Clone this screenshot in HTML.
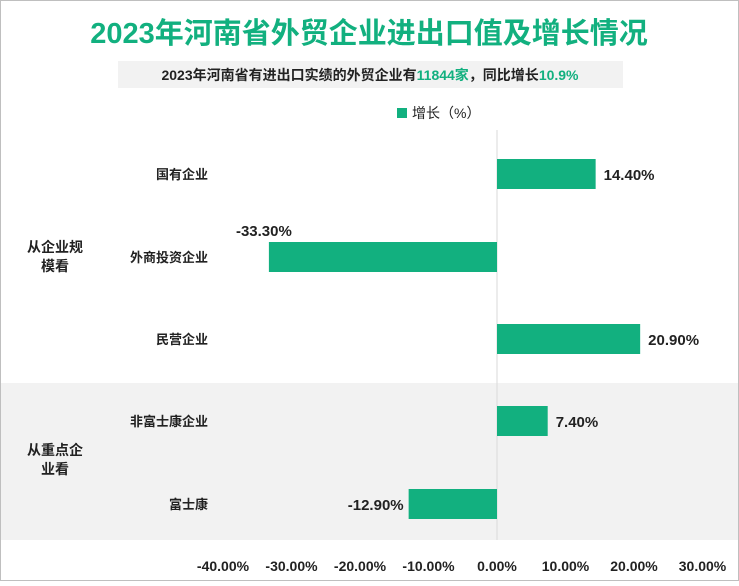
<!DOCTYPE html>
<html><head><meta charset="utf-8"><style>
body{margin:0;background:#fff;font-family:"Liberation Sans","Noto Sans CJK SC",sans-serif;}
svg text{font-family:"Liberation Sans","Noto Sans CJK SC",sans-serif;}
</style></head><body>
<svg width="739" height="581" viewBox="0 0 739 581">
<rect x="0.5" y="0.5" width="738" height="580" fill="#fff" stroke="#bfbfbf"/>
<text x="369" y="43" text-anchor="middle" font-size="29" font-weight="bold" fill="#12b07f">2023年河南省外贸企业进出口值及增长情况</text>
<rect x="118" y="61" width="505" height="27" fill="#f2f2f2"/>
<text x="370" y="80" text-anchor="middle" font-size="14" font-weight="bold" fill="#222">2023年河南省有进出口实绩的外贸企业有<tspan fill="#12b07f">11844家</tspan>，同比增长<tspan fill="#12b07f">10.9%</tspan></text>
<rect x="397" y="108" width="10" height="10" fill="#12b07f"/>
<text x="412" y="118" font-size="14" fill="#222">增长（%）</text>
<rect x="1" y="383" width="737" height="157" fill="#f2f2f2"/>
<text x="55" y="252" text-anchor="middle" font-size="14" font-weight="bold" fill="#222"><tspan x="55">从企业规</tspan><tspan x="55" dy="19">模看</tspan></text>
<text x="55" y="455" text-anchor="middle" font-size="14" font-weight="bold" fill="#222"><tspan x="55">从重点企</tspan><tspan x="55" dy="19">业看</tspan></text>
<g id="plot"></g>
</svg>
<script>
const categories=["国有企业","外商投资企业","民营企业","非富士康企业","富士康"];
const values=[14.4,-33.3,20.9,7.4,-12.9];
const ticks=[-40,-30,-20,-10,0,10,20,30];
const x0=497, pxPer=6.85;
function xs(v){return x0+v*pxPer;}
const rowY=[174,257,339,421,504];
const ns="http://www.w3.org/2000/svg";
const g=document.getElementById('plot');
function mk(t,a,txt){const e=document.createElementNS(ns,t);for(const k in a)e.setAttribute(k,a[k]);if(txt!==undefined)e.textContent=txt;g.appendChild(e);return e;}
const zl=mk('line',{x1:x0,x2:x0,y1:130,y2:540,stroke:'#d9d9d9'});


ticks.forEach(t=>{
const e=mk('text',{x:xs(t),y:571,'text-anchor':'middle','font-size':14,'font-weight':'bold',fill:'#222'},t.toFixed(2)+'%');


});
categories.forEach((c,i)=>{
const y=rowY[i],v=values[i];
const l=mk('text',{x:208,y:y+5,'text-anchor':'end','font-size':13,'font-weight':'bold',fill:'#222'},c);


const b=mk('rect',{x:Math.min(xs(0),xs(v)),y:y-15,width:Math.abs(xs(v)-xs(0)),height:30,fill:'#12b07f'});


let lx,ly,anc;
if(v>=0){lx=xs(v)+8;ly=y+6;anc='start';}
else if(v<-20){lx=xs(v)-5;ly=y-21;anc='middle';}
else{lx=xs(v)-5;ly=y+6;anc='end';}
const vl=mk('text',{x:lx,y:ly,'text-anchor':anc,'font-size':15,'font-weight':'bold',fill:'#222'},v.toFixed(2)+'%');


});
</script>
</body></html>
